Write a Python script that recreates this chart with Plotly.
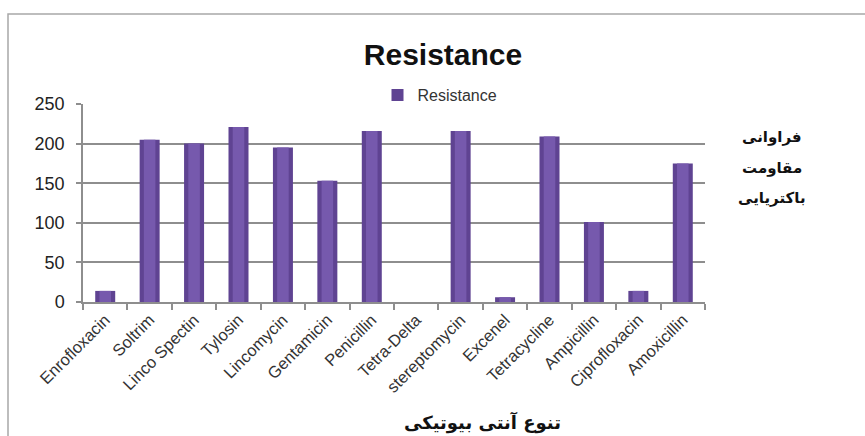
import plotly.graph_objects as go

categories = ["Enrofloxacin", "Soltrim", "Linco Spectin", "Tylosin", "Lincomycin",
              "Gentamicin", "Penicillin", "Tetra-Delta", "stereptomycin", "Excenel",
              "Tetracycline", "Ampicillin", "Ciprofloxacin", "Amoxicillin"]
resistance = [14, 205, 200, 221, 195, 153, 216, 0, 216, 6, 209, 101, 14, 175]
series_name = "Resistance"
chart_title = "Resistance"
y_title_lines = ["فراوانی", "مقاومت", "باکتریایی"]
x_title = "تنوع آنتی بیوتیکی"
y_ticks = [0, 50, 100, 150, 200, 250]

W, H = 865, 436
L, R, T, B = 83, 160, 104, 134
pw = W - L - R
ph = H - T - B

def px(x):
    return (x - L) / pw

def py(y):
    return (H - B - y) / ph

grid = "#8e8e8e"

fig = go.Figure()
# main bar (darker edges)
fig.add_trace(go.Bar(
    x=categories, y=resistance, name=series_name, width=0.45,
    marker=dict(color="#5f4392", line=dict(width=0)),
    showlegend=True, hoverinfo="x+y",
))
# lighter centre for the cylindrical look
fig.add_trace(go.Bar(
    x=categories, y=resistance, name=series_name, width=0.26,
    marker=dict(color="#7659ad", line=dict(width=0)),
    showlegend=False, hoverinfo="skip",
))

fig.update_layout(
    width=W, height=H,
    margin=dict(l=L, r=R, t=T, b=B),
    paper_bgcolor="white", plot_bgcolor="white",
    barmode="overlay",
    title=dict(text="<b>" + chart_title + "</b>", x=443 / W, xanchor="center",
               y=1 - 54 / H, yanchor="middle",
               font=dict(family="Liberation Sans", size=30, color="#111111")),
    legend=dict(orientation="h", x=px(440), xanchor="center", y=py(95), yanchor="middle",
                font=dict(family="Liberation Sans", size=16, color="#333333"),
                bgcolor="rgba(0,0,0,0)", itemwidth=30, tracegroupgap=0),
    font=dict(family="Liberation Sans", color="#222222"),
    showlegend=True,
)

fig.update_yaxes(
    range=[0, 250], tickvals=y_ticks, showgrid=True, gridcolor=grid, gridwidth=1.5,
    ticks="outside", ticklen=5, tickcolor=grid, tickwidth=1.5,
    showline=True, linecolor=grid, linewidth=1.5,
    tickfont=dict(size=18, color="#222222"), ticklabelstandoff=8,
    zeroline=False, fixedrange=True,
)
fig.update_xaxes(
    type="category", tickangle=-45, ticks="outside", tickson="boundaries",
    ticklen=6, tickcolor=grid, tickwidth=1.5,
    showline=True, linecolor=grid, linewidth=1.5,
    tickfont=dict(size=16.5, color="#333333"), fixedrange=True,
)

# outer chart frame (left and top visible)
fig.add_shape(type="rect", xref="paper", yref="paper",
              x0=px(8), x1=px(W + 20), y0=py(H + 20), y1=py(14),
              line=dict(color="#a8a8a8", width=1.5), layer="below")

line_ys = [137, 168, 198]
for txt, yy in zip(y_title_lines, line_ys):
    fig.add_annotation(text="<b>" + txt + "</b>", xref="paper", yref="paper",
                       x=px(772), y=py(yy), xanchor="center", yanchor="middle",
                       showarrow=False,
                       font=dict(family="DejaVu Sans", size=15, color="#111111"))

fig.add_annotation(text="<b>" + x_title + "</b>", xref="paper", yref="paper",
                   x=px(482), y=py(422), xanchor="center", yanchor="middle",
                   showarrow=False,
                   font=dict(family="DejaVu Sans", size=18, color="#111111"))

fig.write_html("out.html", config={"displayModeBar": False},
               post_script="document.body.style.margin='0';document.body.style.overflow='hidden';")
